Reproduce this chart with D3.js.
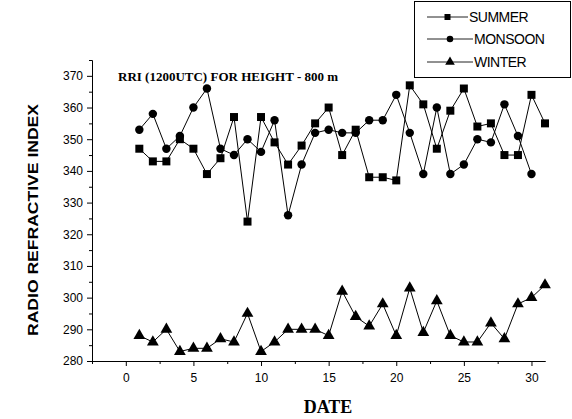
<!DOCTYPE html>
<html>
<head>
<meta charset="utf-8">
<script src="https://cdn.jsdelivr.net/npm/d3@7"></script>
<style>
  html, body { margin: 0; padding: 0; background: #fff; }
  svg { display: block; }
</style>
</head>
<body>
<svg id="chart" width="572" height="419"></svg>
<script>
// Day of month
const days = d3.range(1, 32);

// Radio refractive index at 800 m, 1200 UTC
const summer = [347, 343, 343, 350, 347, 339, 344, 357, 324, 357, 349, 342, 348, 355, 360,
                345, 353, 338, 338, 337, 367, 361, 347, 359, 366, 354, 355, 345, 345, 364, 355];
const monsoon = [353, 358, 347, 351, 360, 366, 347, 345, 350, 346, 356, 326, 342, 352, 353,
                 352, 352, 356, 356, 364, 352, 339, 360, 339, 342, 350, 349, 361, 351, 339];
const winter = [288, 286, 290, 283, 284, 284, 287, 286, 295, 283, 286, 290, 290, 290, 288,
                302, 294, 291, 298, 288, 303, 289, 299, 288, 286, 286, 292, 287, 298, 300, 304];

const seriesNames = ["SUMMER", "MONSOON", "WINTER"];
const xTicks = [0, 5, 10, 15, 20, 25, 30];
const yTicks = [280, 290, 300, 310, 320, 330, 340, 350, 360, 370];

const svg = d3.select("#chart");

const x = d3.scaleLinear().domain([-2.5, 31]).range([92, 545]);
const y = d3.scaleLinear().domain([280, 375]).range([361, 60]);

// Axes
const xAxis = d3.axisBottom(x).tickValues(xTicks).tickFormat(d3.format("d")).tickSize(5).tickSizeOuter(0);
const xMinor = d3.axisBottom(x).tickValues([-2.5, 2.5, 7.5, 12.5, 17.5, 22.5, 27.5]).tickFormat("").tickSize(3).tickSizeOuter(0);
const yAxis = d3.axisLeft(y).tickValues(yTicks).tickFormat(d3.format("d")).tickSize(5).tickSizeOuter(0);
const yMinor = d3.axisLeft(y).tickValues(d3.range(285, 380, 10)).tickFormat("").tickSize(3).tickSizeOuter(0);

function styleAxis(g) {
  g.selectAll("path, line").attr("stroke", "#000").attr("stroke-width", 1);
  g.selectAll("text").attr("fill", "#000")
    .style("font-family", "'Liberation Sans', Arial, sans-serif").style("font-size", "12px");
}

svg.append("g").attr("transform", "translate(0,361)").call(xMinor).call(styleAxis);
svg.append("g").attr("transform", "translate(0,361)").call(xAxis).call(styleAxis)
  .selectAll("text").attr("dy", "1.05em");
svg.append("g").attr("transform", "translate(92,0)").call(yMinor).call(styleAxis);
svg.append("g").attr("transform", "translate(92,0)").call(yAxis).call(styleAxis)
  .selectAll("text").attr("dx", "-1px");

// Lines
const line = d3.line().x((d, i) => x(days[i])).y(d => y(d));
[summer, monsoon, winter].forEach(vals => {
  svg.append("path").datum(vals).attr("d", line)
    .attr("fill", "none").attr("stroke", "#000").attr("stroke-width", 1);
});

// Markers
const sqr = d3.symbol().type(d3.symbolSquare).size(64);
const circ = d3.symbol().type(d3.symbolCircle).size(56);
const tri = d3.symbol().type(d3.symbolTriangle).size(60);

function markers(vals, sym) {
  svg.append("g").selectAll("path").data(vals).join("path")
    .attr("d", sym)
    .attr("transform", (d, i) => `translate(${x(days[i])},${y(d)})`)
    .attr("fill", "#000");
}
markers(summer, sqr);
markers(monsoon, circ);
markers(winter, tri);

// Title
svg.append("text").attr("x", 118).attr("y", 81)
  .style("font-family", "'Liberation Serif', 'Times New Roman', serif")
  .style("font-weight", "bold").style("font-size", "13px")
  .text("RRI (1200UTC) FOR HEIGHT - 800 m");

// Axis titles
svg.append("text").attr("x", 328).attr("y", 413).attr("text-anchor", "middle")
  .style("font-family", "'Liberation Serif', 'Times New Roman', serif")
  .style("font-weight", "bold").style("font-size", "18px")
  .text("DATE");

svg.append("text").attr("transform", "translate(38,220) rotate(-90)").attr("text-anchor", "middle")
  .style("font-family", "'Liberation Sans', Arial, sans-serif")
  .style("font-weight", "bold").style("font-size", "15px")
  .attr("textLength", 232).attr("lengthAdjust", "spacingAndGlyphs")
  .text("RADIO REFRACTIVE INDEX");

// Legend
const legend = svg.append("g");
legend.append("rect").attr("x", 414.5).attr("y", 1.5).attr("width", 156).attr("height", 76)
  .attr("fill", "#fff").attr("stroke", "#000").attr("stroke-width", 1);
const legSyms = [
  d3.symbol().type(d3.symbolSquare).size(36),
  d3.symbol().type(d3.symbolCircle).size(34),
  d3.symbol().type(d3.symbolTriangle).size(40)
];
const legRows = [17, 39, 62];
const legLineEnd = [468, 473, 473];
seriesNames.forEach((name, i) => {
  const cy = legRows[i];
  const mid = (427 + legLineEnd[i]) / 2;
  legend.append("line").attr("x1", 427).attr("x2", legLineEnd[i]).attr("y1", cy).attr("y2", cy)
    .attr("stroke", "#222").attr("stroke-width", 1);
  legend.append("path").attr("d", legSyms[i]).attr("transform", `translate(${mid},${cy})`).attr("fill", "#000");
  legend.append("text").attr("x", legLineEnd[i] + 1).attr("y", cy + 5)
    .style("font-family", "'Liberation Sans', Arial, sans-serif").style("font-size", "14px")
    .style("letter-spacing", "-0.5px")
    .text(name);
});
</script>
</body>
</html>
